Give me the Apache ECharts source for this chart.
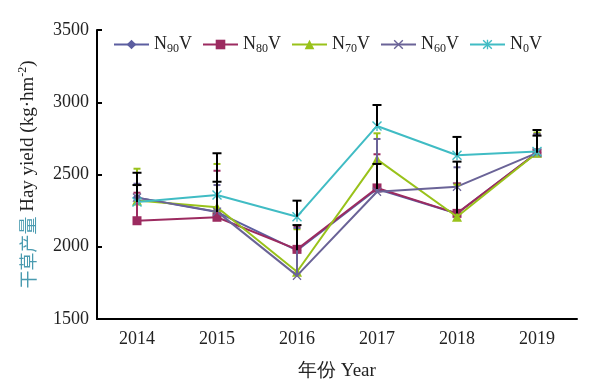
<!DOCTYPE html>
<html><head><meta charset="utf-8">
<script src="https://cdn.jsdelivr.net/npm/echarts@6/dist/echarts.min.js"></script>
<style>html,body{margin:0;padding:0;background:#fff}#c{width:597px;height:392px}</style>
</head><body><div id="c"></div>
<script>
var years = ['2014','2015','2016','2017','2018','2019'];
var yTicks = [1500, 2000, 2500, 3000, 3500];
var N90V = [2340, 2240, 1975, 2400, 2230, 2650];
var N80V = [2180, 2204, 1982, 2407, 2231, 2650];
var N70V = [2320, 2273, 1827, 2605, 2208, 2650];
var N60V = [2340, 2243, 1800, 2381, 2416, 2650];
var N0V  = [2310, 2358, 2208, 2836, 2633, 2660];
// upper ends of error bars
var N90V_up = [2427, 2450, 2150, 2573, 2589, 2769];
var N80V_up = [2374, 2526, 2140, 2640, 2439, 2780];
var N70V_up = [2540, 2573, 2121, 2785, 2430, 2790];
var N60V_up = [2436, 2427, 2130, 2746, 2550, 2780];
var N0V_up  = [2512, 2647, 2319, 2981, 2760, 2808];

var names = ['N90V','N80V','N70V','N60V','N0V'];
var subs = {'N90V':'90','N80V':'80','N70V':'70','N60V':'60','N0V':'0'};
var colors = ['#5c5ea0','#9c2b60','#99c21a','#6a6397','#40bcc4'];
var errColors = ['#000','#9c2b60','#99c21a','#6a6397','#000'];
var vals = [N90V, N80V, N70V, N60V, N0V];
var ups = [N90V_up, N80V_up, N70V_up, N60V_up, N0V_up];
var xPath = 'path://M0,1L1,0L5,4L9,0L10,1L6,5L10,9L9,10L5,6L1,10L0,9L4,5Z';
var starPath = 'path://M0,1L1,0L5,4L9,0L10,1L6,5L10,9L9,10L5,6L1,10L0,9L4,5ZM4.3,0L5.7,0L5.7,10L4.3,10Z';
var symbols = ['diamond','rect', 'triangle', xPath, starPath];
var sizes = [9, 9, 10, 9, 10];
var FONT = '"Liberation Serif","Times New Roman",serif';

var series = [];
names.forEach(function(n, k){
  series.push({
    name: n, type: 'line', data: vals[k], symbol: symbols[k], symbolSize: sizes[k],
    showAllSymbol: true,
    lineStyle: {color: colors[k], width: 2}, itemStyle: {color: colors[k]},
    z: 2 + k
  });
});
// error bars: colored first, black last
var order = [1, 2, 3, 0, 4];
order.forEach(function(k, idx){
  var d = vals[k].map(function(v, i){ return [i, v, ups[k][i]]; });
  series.push({
    type: 'custom', name: names[k] + '_err', data: d, z: 20 + idx,
    encode: {x: 0, y: [1, 2]}, silent: true,
    renderItem: function(params, api){
      var p0 = api.coord([api.value(0), api.value(1)]);
      var p1 = api.coord([api.value(0), api.value(2)]);
      var hw = errColors[k] === '#000' ? 4.5 : 3.5;
      var st = {stroke: errColors[k], lineWidth: 2, fill: null};
      return {type: 'group', children: [
        {type: 'line', shape: {x1: p0[0], y1: p0[1], x2: p1[0], y2: p1[1]}, style: st},
        {type: 'line', shape: {x1: p1[0]-hw, y1: p1[1], x2: p1[0]+hw, y2: p1[1]}, style: st}
      ]};
    }
  });
});

var chart = echarts.init(document.getElementById('c'), null, {renderer: 'canvas'});
chart.setOption({
  animation: false,
  backgroundColor: '#fff',
  textStyle: {fontFamily: FONT},
  grid: {left: 97, right: 20, top: 30, bottom: 73},
  legend: {
    data: names, left: 108, top: 29, itemWidth: 35, itemHeight: 12, itemGap: 10,
    formatter: function(n){ return 'N{sub|' + subs[n] + '}V'; },
    textStyle: {fontFamily: FONT, fontSize: 18, color: '#222', lineHeight: 21,
      rich: {sub: {fontFamily: FONT, fontSize: 12, verticalAlign: 'bottom', lineHeight: 21, color: '#222'}}}
  },
  xAxis: {
    type: 'category', data: years, boundaryGap: true,
    axisLine: {lineStyle: {color: '#000', width: 2}},
    axisTick: {inside: true, length: 5, lineStyle: {color: '#000', width: 2}},
    axisLabel: {color: '#222', fontFamily: FONT, fontSize: 18, margin: 11},
    name: '年份 Year', nameLocation: 'middle', nameGap: 43,
    nameTextStyle: {color: '#222', fontFamily: FONT, fontSize: 19,
      rich: {}}
  },
  yAxis: {
    type: 'value', min: yTicks[0], max: yTicks[yTicks.length-1], interval: 500,
    splitLine: {show: false},
    axisLine: {show: true, lineStyle: {color: '#000', width: 2}},
    axisTick: {show: true, inside: true, length: 5, lineStyle: {color: '#000', width: 2}},
    axisLabel: {color: '#222', fontFamily: FONT, fontSize: 18, margin: 8,
      formatter: function(v){ return String(v); }},
    name: '{cn|干草产量} Hay yield (kg·hm{sup|-2})', nameLocation: 'middle', nameGap: 58, nameRotate: 90,
    nameTextStyle: {color: '#222', fontFamily: FONT, fontSize: 19, lineHeight: 22,
      rich: {
        cn: {color: '#4a9bb0', fontFamily: '"Noto Sans CJK SC",serif', fontSize: 18, lineHeight: 22},
        sup: {fontFamily: FONT, fontSize: 12, verticalAlign: 'top', lineHeight: 22, color: '#222'}
      }}
  },
  series: series
});
</script></body></html>
